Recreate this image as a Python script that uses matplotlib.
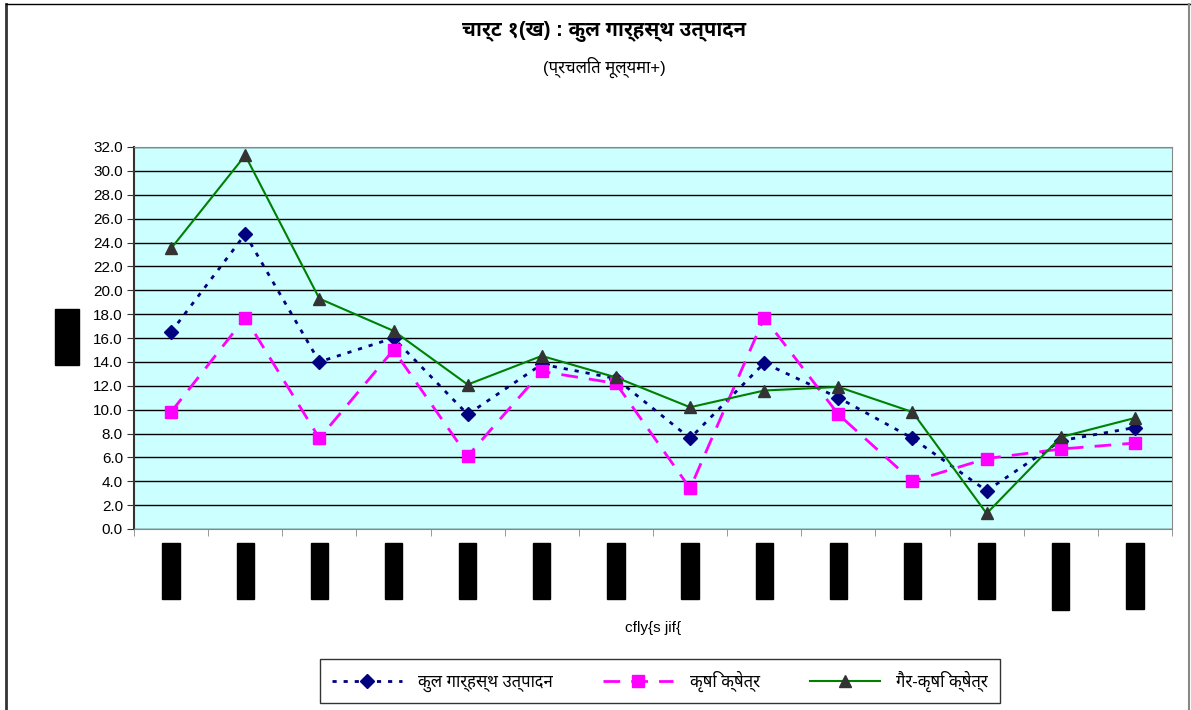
import matplotlib
matplotlib.use("Agg")
import matplotlib.pyplot as plt
from matplotlib.lines import Line2D

years = ["2051/52", "2052/53", "2053/54", "2054/55", "2055/56", "2056/57", "2057/58",
         "2058/59", "2059/60", "2060/61", "2061/62", "2062/63", "2063/64R", "2064/65P"]
total = [16.5, 24.7, 14.0, 16.0, 9.6, 13.8, 12.6, 7.6, 13.9, 11.0, 7.6, 3.2, 7.4, 8.5]
agri = [9.8, 17.7, 7.6, 15.0, 6.1, 13.2, 12.2, 3.4, 17.7, 9.6, 4.0, 5.9, 6.7, 7.2]
nonagri = [23.5, 31.3, 19.3, 16.6, 12.1, 14.5, 12.7, 10.2, 11.6, 11.9, 9.8, 1.3, 7.7, 9.3]
series_names = ["कुल गार्हस्थ उत्पादन", "कृषि क्षेत्र", "गैर-कृषि क्षेत्र"]

plt.rcParams['font.family'] = ['Liberation Sans', 'Noto Sans Devanagari UI',
                               'Poppins', 'DejaVu Sans']

fig = plt.figure(figsize=(11.91, 7.10), dpi=100)
ax = fig.add_axes([134 / 1191, 1 - 529 / 710, 1038 / 1191, 382 / 710])
ax.set_facecolor("#CCFFFF")

x = list(range(len(years)))
ax.plot(x, total, color="#000080", ls=(0, (1.5, 2.5)), lw=2, marker="D", ms=7,
        label=series_names[0], zorder=3)
ax.plot(x, agri, color="#FF00FF", ls=(0, (6, 4)), lw=2, marker="s", ms=8,
        label=series_names[1], zorder=3)
ax.plot(x, nonagri, color="#008000", ls="-", lw=1.5, marker="^", ms=9,
        mfc="#333333", mec="#333333", label=series_names[2], zorder=3)

ax.set_xlim(-0.5, len(years) - 0.5)
ax.set_ylim(0, 32)
ax.set_yticks([i * 2 for i in range(17)])
ax.set_yticklabels([f"{i * 2:.1f}" for i in range(17)], fontsize=11)
ax.yaxis.grid(True, color="black", lw=1)
ax.set_axisbelow(True)
ax.tick_params(axis="y", direction="out", length=5, color="#333333", pad=3)

ax.set_xticks(x)
ax.set_xticklabels(years, rotation=90, fontsize=10.5, va="top", color="black",
                   bbox=dict(facecolor="black", edgecolor="black", pad=1.2))
ax.tick_params(axis="x", length=0, pad=11)
ax.set_xticks([i - 0.5 for i in range(len(years) + 1)], minor=True)
ax.tick_params(axis="x", which="minor", direction="out", length=5, color="#888888")

for s in ["top", "right", "bottom"]:
    ax.spines[s].set_color("#888888")
ax.spines["left"].set_color("#333333")
ax.spines["left"].set_linewidth(1.5)

fig.text(604 / 1191, 1 - 32 / 710, "चार्ट १(ख) : कुल गार्हस्थ उत्पादन", ha="center",
         va="center", fontsize=14.5, fontweight="bold")
fig.text(604 / 1191, 1 - 67 / 710, "(प्रचलित मूल्यमा+)", ha="center", va="center",
         fontsize=12)
fig.text(67 / 1191, 1 - 337 / 710, "प्रतिशत", rotation=90, ha="center",
         va="center", fontsize=12.5, color="black",
         bbox=dict(facecolor="black", edgecolor="black", pad=1))
fig.text(653 / 1191, 1 - 628 / 710, "cfly{s jif{", ha="center", va="center",
         fontsize=11)

fig.legend(loc="center", bbox_to_anchor=(660 / 1191, 1 - 681 / 710), ncol=3,
           handlelength=4.2, handletextpad=1.0, columnspacing=3.0, fontsize=12,
           frameon=True, fancybox=False, edgecolor="black", borderpad=0.7)

# chart area frame
fig.add_artist(Line2D([6 / 1191, 6 / 1191], [0, 1 - 4 / 710], color="#333333", lw=2))
fig.add_artist(Line2D([6 / 1191, 1190 / 1191], [1 - 4 / 710, 1 - 4 / 710], color="black", lw=1))
fig.add_artist(Line2D([1189 / 1191, 1189 / 1191], [0, 1 - 4 / 710], color="#888888", lw=1.5))

fig.savefig("out.png", dpi=100)
